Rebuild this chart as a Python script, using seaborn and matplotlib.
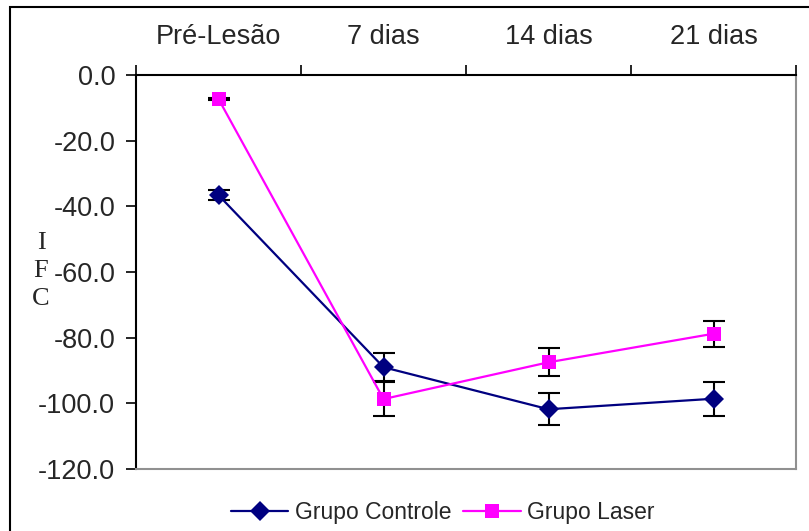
import numpy as np
import pandas as pd
import matplotlib
matplotlib.use("Agg")
import matplotlib.pyplot as plt
import seaborn as sns
from matplotlib.patches import Rectangle
from matplotlib.lines import Line2D

# data
periods = ["Pré-Lesão", "7 dias", "14 dias", "21 dias"]
controle = [-36.6, -89.0, -101.8, -98.6]
controle_err = [1.6, 4.3, 4.8, 5.2]
laser = [-7.3, -98.7, -87.5, -78.8]
laser_err = [0.4, 5.1, 4.3, 4.0]
yticks = [0, -20, -40, -60, -80, -100, -120]

sns.set_style("white")
plt.rcParams['font.family'] = ['Liberation Sans', 'DejaVu Sans']

df = pd.DataFrame({
    "pos": list(range(len(periods))) * 2,
    "ifc": controle + laser,
    "grupo": ["Grupo Controle"] * 4 + ["Grupo Laser"] * 4,
})

fig = plt.figure(figsize=(8.09, 5.31), dpi=100)
ax = fig.add_axes([136 / 809, 1 - 469 / 531, 660 / 809, 394 / 531])

colors = {"Grupo Controle": "#000080", "Grupo Laser": "#FF00FF"}
markers = {"Grupo Controle": "D", "Grupo Laser": "s"}

# error bars first so the markers sit on top
x = np.arange(len(periods))
ax.errorbar(x, controle, yerr=controle_err, fmt="none", ecolor="black",
            elinewidth=1.5, capsize=8, capthick=1.5, zorder=2)
ax.errorbar(x, laser, yerr=laser_err, fmt="none", ecolor="black",
            elinewidth=1.5, capsize=8, capthick=1.5, zorder=2)

sns.lineplot(data=df, x="pos", y="ifc", hue="grupo", style="grupo",
             palette=colors, markers=markers, dashes=False, linewidth=1.6,
             markersize=10, markeredgewidth=0, legend=False, ax=ax, zorder=3)

ax.set_xlim(-0.5, 3.5)
ax.set_ylim(-120, 0)
ax.set_xlabel("")
ax.set_ylabel("")

# category axis on top
ax.xaxis.tick_top()
ax.set_xticks(x)
ax.set_xticklabels(periods, fontsize=19.5)
ax.set_xticks(np.arange(-0.5, 4.0, 1.0), minor=True)
ax.tick_params(axis="x", which="major", length=0, pad=18, top=True, bottom=False)
ax.tick_params(axis="x", which="minor", length=7, width=1.2, color="black",
               direction="out", top=True, bottom=False)

ax.set_yticks(yticks)
ax.set_yticklabels([f"{v:.1f}" for v in yticks], fontsize=19.5)
ax.tick_params(axis="y", length=7, width=1.2, color="black", direction="out",
               pad=8, left=True)

for side in ["top", "left"]:
    ax.spines[side].set_color("black")
    ax.spines[side].set_linewidth(1.5)
for side in ["bottom", "right"]:
    ax.spines[side].set_color("#909090")
    ax.spines[side].set_linewidth(1.5)

# vertical stacked axis label
fig.text(41 / 809, 1 - 271 / 531, "I\nF\nC", family="Liberation Serif",
         fontsize=19, ha="center", va="center", linespacing=1.35)

handles = [
    Line2D([], [], color=colors[g], marker=markers[g], markersize=10,
           markeredgewidth=0, linewidth=1.6) for g in ["Grupo Controle", "Grupo Laser"]
]
fig.legend(handles, ["Grupo Controle", "Grupo Laser"], loc="center",
           bbox_to_anchor=(443 / 809, 1 - 513 / 531), ncol=2, frameon=False,
           fontsize=16.5, handlelength=2.5, handletextpad=0.3, columnspacing=0.5)

# outer chart border
fig.patches.append(Rectangle((10 / 809, -0.02), 1.0, 1 - 7 / 531 + 0.02,
                             transform=fig.transFigure, fill=False,
                             edgecolor="black", linewidth=1.5))

fig.savefig("out.png", dpi=100)
